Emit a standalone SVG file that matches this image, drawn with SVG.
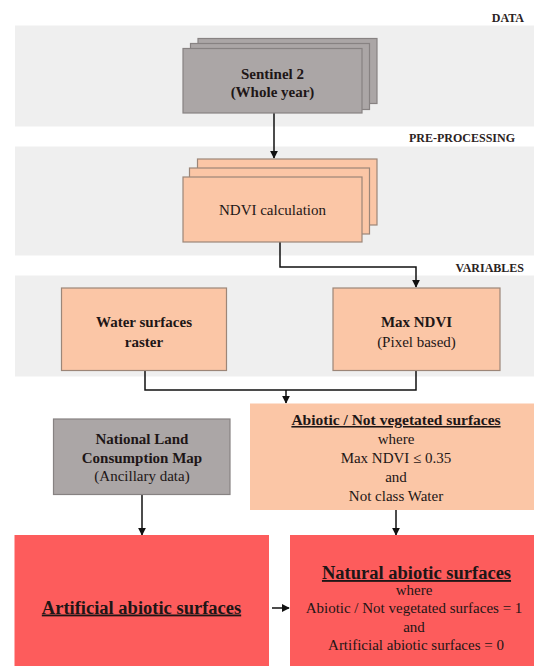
<svg xmlns="http://www.w3.org/2000/svg" width="534" height="666" viewBox="0 0 534 666">
  <defs>
    <marker id="arrow" viewBox="0 0 10 10" refX="9" refY="5" markerWidth="8" markerHeight="8" markerUnits="userSpaceOnUse" orient="auto">
      <path d="M0,0 L10,5 L0,10 Z" fill="#111"/>
    </marker>
  </defs>

  <rect width="534" height="666" fill="#ffffff"/>

  <!-- stage bands -->
  <g id="bands">
    <g fill="#efefef">
      <rect x="15" y="25.5" width="519" height="101"/>
      <rect x="15" y="146.5" width="519" height="109"/>
      <rect x="15" y="275.5" width="519" height="101"/>
    </g>
    <g fill="#2a2222" text-anchor="end">
      <text font-family="Liberation Serif" font-size="12" font-weight="bold" x="524" y="22">DATA</text>
      <text font-family="Liberation Serif" font-size="12" font-weight="bold" x="515" y="142">PRE-PROCESSING</text>
      <text font-family="Liberation Serif" font-size="12" font-weight="bold" x="524" y="272">VARIABLES</text>
    </g>
  </g>

  <!-- connectors -->
  <g id="connectors" fill="none" stroke="#111" stroke-width="1.5">
    <line x1="274" y1="113" x2="274" y2="158" marker-end="url(#arrow)"/>
    <polyline points="280,242 280,267 416,267 416,287" marker-end="url(#arrow)"/>
    <polyline points="145,370 145,390 416,390 416,370"/>
    <line x1="286" y1="390" x2="286" y2="403" marker-end="url(#arrow)"/>
    <line x1="142" y1="494" x2="142" y2="535" marker-end="url(#arrow)"/>
    <line x1="396" y1="510" x2="396" y2="535" marker-end="url(#arrow)"/>
    <line x1="272" y1="608" x2="289" y2="608" marker-end="url(#arrow)"/>
  </g>

  <g id="sentinel2">
    <g fill="#aba6a6" stroke="#878282" stroke-width="1.2">
      <rect x="198" y="38.5" width="179" height="65"/>
      <rect x="190.5" y="43.5" width="179" height="66"/>
      <rect x="183" y="48.5" width="179" height="64.5"/>
    </g>
    <g fill="#1e1616" text-anchor="middle">
      <text font-family="Liberation Serif" font-size="15" font-weight="bold" x="272.5" y="79">Sentinel 2</text>
      <text font-family="Liberation Serif" font-size="15" font-weight="bold" x="272.5" y="97">(Whole year)</text>
    </g>
  </g>

  <g id="ndvi-calculation">
    <g fill="#fbc6a6" stroke="#9c8678" stroke-width="1.2">
      <rect x="197.5" y="159" width="179.5" height="66"/>
      <rect x="189.5" y="168" width="180" height="66"/>
      <rect x="183" y="177" width="179" height="65"/>
    </g>
    <text font-family="Liberation Serif" font-size="15" fill="#1e1616" text-anchor="middle" x="272.5" y="215">NDVI calculation</text>
  </g>

  <g id="water-surfaces">
    <rect x="61.5" y="288" width="165" height="82.5" fill="#fbc6a6" stroke="#9c8678" stroke-width="1.2"/>
    <g fill="#1e1616" text-anchor="middle">
      <text font-family="Liberation Serif" font-size="15" font-weight="bold" x="144" y="326.5">Water surfaces</text>
      <text font-family="Liberation Serif" font-size="15" font-weight="bold" x="144" y="347">raster</text>
    </g>
  </g>

  <g id="max-ndvi">
    <rect x="333" y="288" width="167" height="82.5" fill="#fbc6a6" stroke="#9c8678" stroke-width="1.2"/>
    <g fill="#1e1616" text-anchor="middle">
      <text font-family="Liberation Serif" font-size="15" font-weight="bold" x="416.5" y="326.5">Max NDVI</text>
      <text font-family="Liberation Serif" font-size="15" x="416.5" y="347">(Pixel based)</text>
    </g>
  </g>

  <g id="land-consumption">
    <rect x="53.5" y="419" width="176.5" height="75.5" fill="#aba6a6" stroke="#878282" stroke-width="1.2"/>
    <g fill="#1e1616" text-anchor="middle">
      <text font-family="Liberation Serif" font-size="15" font-weight="bold" x="142" y="444">National Land</text>
      <text font-family="Liberation Serif" font-size="15" font-weight="bold" x="142" y="462.5">Consumption Map</text>
      <text font-family="Liberation Serif" font-size="15" x="142" y="480.5">(Ancillary data)</text>
    </g>
  </g>

  <g id="abiotic">
    <rect x="250" y="403.5" width="284" height="106.5" fill="#fbc6a6"/>
    <g fill="#1e1616" text-anchor="middle">
      <text font-family="Liberation Serif" font-size="15.5" font-weight="bold" text-decoration="underline" x="396" y="425">Abiotic / Not vegetated surfaces</text>
      <text font-family="Liberation Serif" font-size="15" x="396" y="444">where</text>
      <text font-family="Liberation Serif" font-size="15" x="396" y="463">Max NDVI ≤ 0.35</text>
      <text font-family="Liberation Serif" font-size="15" x="396" y="482">and</text>
      <text font-family="Liberation Serif" font-size="15" x="396" y="501">Not class Water</text>
    </g>
  </g>

  <g id="artificial-abiotic">
    <rect x="14.5" y="535" width="254.5" height="131" fill="#fd5c5c"/>
    <text font-family="Liberation Serif" font-size="18.5" font-weight="bold" text-decoration="underline" fill="#1e1616" text-anchor="middle" x="141.5" y="613.5">Artificial abiotic surfaces</text>
  </g>

  <g id="natural-abiotic">
    <rect x="290" y="535" width="244" height="131" fill="#fd5c5c"/>
    <g fill="#1e1616" text-anchor="middle">
      <text font-family="Liberation Serif" font-size="18.5" font-weight="bold" text-decoration="underline" x="416.5" y="579">Natural abiotic surfaces</text>
      <text font-family="Liberation Serif" font-size="15" x="414" y="595">where</text>
      <text font-family="Liberation Serif" font-size="15" x="414" y="613">Abiotic / Not vegetated surfaces = 1</text>
      <text font-family="Liberation Serif" font-size="15" x="414" y="632">and</text>
      <text font-family="Liberation Serif" font-size="15" x="416" y="649.5">Artificial abiotic surfaces = 0</text>
    </g>
  </g>
</svg>
